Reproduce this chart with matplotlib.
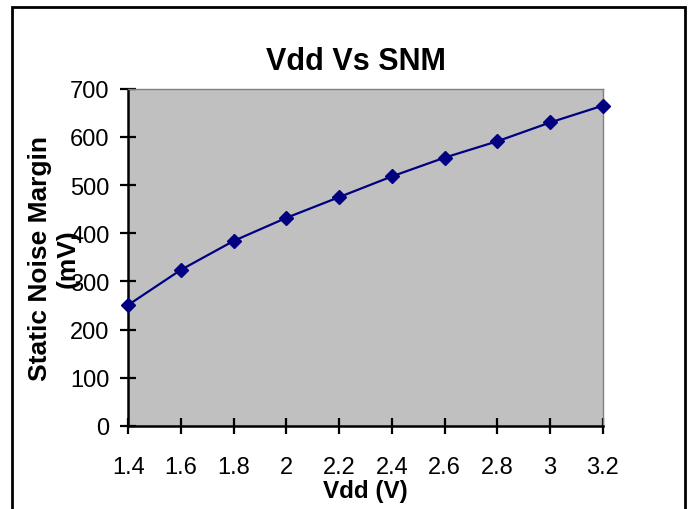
import matplotlib
matplotlib.use('Agg')
import matplotlib.pyplot as plt
from matplotlib.patches import Rectangle


VDD = ['1.4', '1.6', '1.8', '2', '2.2', '2.4', '2.6', '2.8', '3', '3.2']
SNM = [251, 324, 384, 432, 475, 518, 557, 591, 630, 665]
Y_TICKS = [0, 100, 200, 300, 400, 500, 600, 700]


def main():
    plt.rcParams['font.family'] = ['Liberation Sans', 'DejaVu Sans']

    fig = plt.figure(figsize=(6.89, 5.10), dpi=100)
    ax = fig.add_axes([0.186, 0.163, 0.689, 0.661])
    ax.set_facecolor('#c0c0c0')

    xs = range(len(VDD))
    ax.plot(xs, SNM, color='#000080', lw=1.6, marker='D', markersize=7.5,
            markerfacecolor='#000080', markeredgecolor='#000080',
            clip_on=False, zorder=3)

    ax.set_xlim(0, len(VDD) - 1)
    ax.set_ylim(0, 700)
    ax.set_xticks(list(xs))
    ax.set_xticklabels(VDD)
    ax.set_yticks(Y_TICKS)

    for side in ('top', 'right'):
        ax.spines[side].set_color('#808080')
        ax.spines[side].set_linewidth(1.0)
    for side in ('left', 'bottom'):
        ax.spines[side].set_color('black')
        ax.spines[side].set_linewidth(1.8)

    ax.tick_params(axis='y', direction='inout', length=11, width=1.6,
                   labelsize=17, pad=8)
    ax.tick_params(axis='x', direction='inout', length=11, width=1.6,
                   labelsize=17, pad=16)

    ax.set_title('Vdd Vs SNM', fontsize=22, fontweight='bold', pad=14,
                 x=0.48)
    ax.set_xlabel('Vdd (V)', fontsize=17.5, fontweight='bold', labelpad=1)
    ax.set_ylabel('Static Noise Margin\n(mV)', fontsize=19, fontweight='bold',
                  linespacing=1.2)
    ax.yaxis.set_label_coords(-0.102, 0.5)

    # outer chart frame, bottom edge runs off the image
    fig.patches.append(Rectangle((12 / 689, -0.05), 673 / 689, 1.034,
                                 transform=fig.transFigure, fill=False,
                                 edgecolor='black', linewidth=2))

    fig.savefig('out.png', dpi=100)


if __name__ == '__main__':
    main()
